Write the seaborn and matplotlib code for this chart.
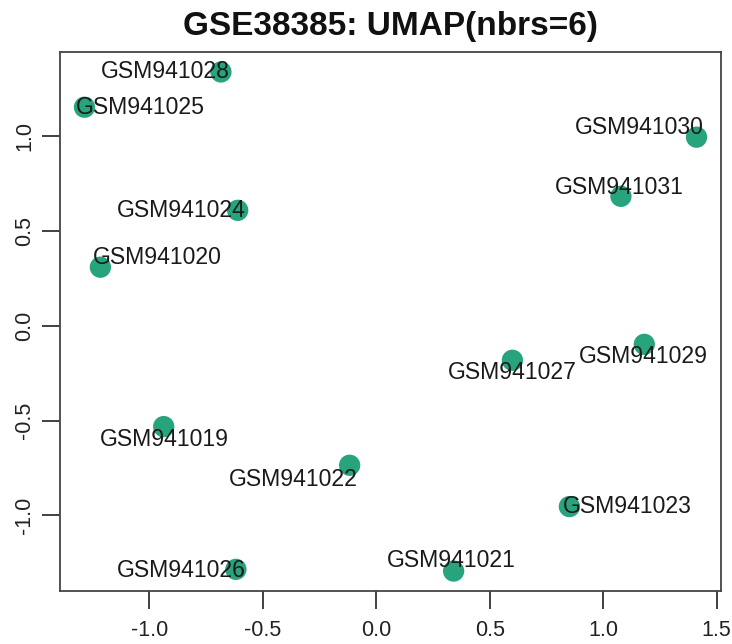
import matplotlib
matplotlib.use("Agg")
import matplotlib.pyplot as plt
import seaborn as sns
import pandas as pd
import numpy as np

samples = ["GSM941028", "GSM941025", "GSM941024", "GSM941020", "GSM941030",
           "GSM941031", "GSM941029", "GSM941027", "GSM941019", "GSM941022",
           "GSM941026", "GSM941021", "GSM941023"]
umap_x = [-0.684, -1.285, -0.610, -1.215, 1.411, 1.078, 1.181, 0.600,
          -0.936, -0.117, -0.618, 0.341, 0.851]
umap_y = [1.339, 1.153, 0.609, 0.309, 0.995, 0.683, -0.098, -0.182,
          -0.532, -0.736, -1.285, -1.294, -0.954]
label_x = [-0.928, -1.039, -0.860, -0.965, 1.158, 1.070, 1.175, 0.601,
           -0.934, -0.366, -0.860, 0.333, 1.104]
label_y = [1.339, 1.153, 0.609, 0.361, 1.047, 0.731, -0.161, -0.245,
           -0.599, -0.810, -1.289, -1.241, -0.954]
x_ticks = [-1.0, -0.5, 0.0, 0.5, 1.0, 1.5]
y_ticks = [-1.0, -0.5, 0.0, 0.5, 1.0]
title = "GSE38385: UMAP(nbrs=6)"

sns.set_style("white")
plt.rcParams["font.family"] = ["Liberation Sans", "DejaVu Sans"]

df = pd.DataFrame({"x": umap_x, "y": umap_y, "sample": samples})

fig = plt.figure(figsize=(7.32, 6.44), dpi=100)
ax = fig.add_axes([60 / 732, 1 - 591 / 644, (721 - 60) / 732, (591 - 52) / 644])

sns.scatterplot(data=df, x="x", y="y", ax=ax, color="#1B9E77", s=235,
                edgecolor="none", alpha=0.95, legend=False, zorder=2)

for lx, ly, name in zip(label_x, label_y, samples):
    ax.text(lx, ly, name, ha="center", va="center", fontsize=16.6,
            color="#1a1a1a", zorder=3)

def r_lim(v):
    lo, hi = min(v), max(v)
    d = (hi - lo) * 0.04
    return lo - d, hi + d

ax.set_xlim(*r_lim(umap_x))
ax.set_ylim(*r_lim(umap_y))
ax.set_xticks(x_ticks)
ax.set_xticklabels([f"{t:.1f}" for t in x_ticks])
ax.set_yticks(y_ticks)
ax.set_yticklabels([f"{t:.1f}" for t in y_ticks], rotation=90, va="center")
ax.tick_params(axis="both", direction="out", length=13, width=1.3,
               color="#333333", labelsize=15.5, labelcolor="#222222",
               bottom=True, left=True)
ax.tick_params(axis="x", pad=8)
ax.tick_params(axis="y", pad=5)
for sp in ax.spines.values():
    sp.set_visible(True)
    sp.set_color("#444444")
    sp.set_linewidth(1.3)
ax.set_xlabel("")
ax.set_ylabel("")
fig.text(390.5 / 732, 1 - 27 / 644, title, ha="center", va="center",
         fontsize=24, fontweight="bold", color="#111111")

fig.savefig("out.png", dpi=100)
